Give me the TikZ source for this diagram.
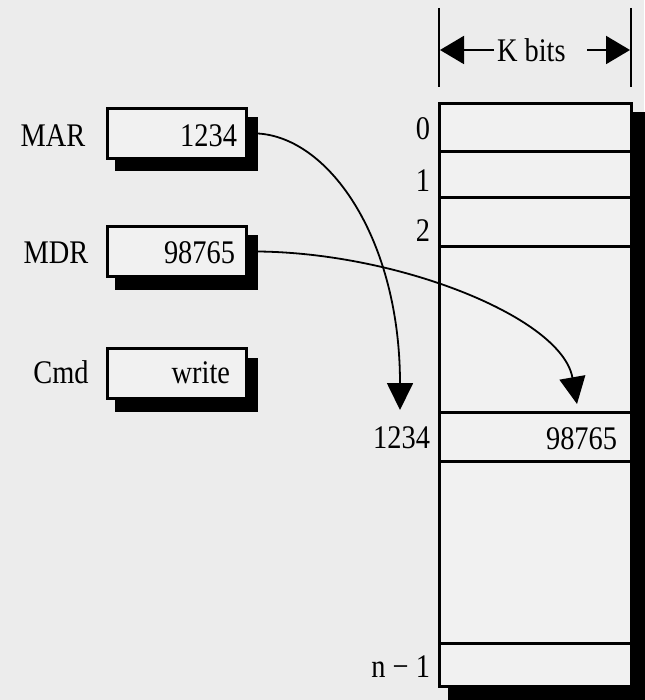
\documentclass[tikz,border=0pt]{standalone}
\usepackage{fontspec}
\setmainfont{Liberation Serif}[FakeStretch=0.86]
\usetikzlibrary{arrows.meta}
\definecolor{pagebg}{RGB}{236,236,236}
\definecolor{boxfill}{RGB}{241,241,241}
\pgfdeclarelayer{back}
\pgfsetlayers{back,main}
\begin{document}
\begin{tikzpicture}[x=1pt,y=-1pt,
  txt/.style={font=\fontsize{33}{37}\selectfont, inner sep=0pt, outer sep=0pt},
  reg/.style={draw, line width=3pt, fill=boxfill, minimum width=139pt, minimum height=50pt, inner sep=0pt, outer sep=0pt},
  cell/.style={draw, line width=3pt, fill=boxfill, minimum width=192pt, inner sep=0pt, outer sep=0pt},
  curve/.style={line width=1.8pt, -{Triangle[length=27pt,width=26pt]}},
  karrow/.style={line width=2pt, -{Triangle[length=24pt,width=28pt]}},
  bar/.style={line width=2pt}
]
\begin{pgfonlayer}{back}
\fill[pagebg] (0,0) rectangle (644,700);
\end{pgfonlayer}
\useasboundingbox (0,0) rectangle (644,700);

% registers
\node[reg] (mar) at (177,133.5) {};
\node[reg] (mdr) at (177,251.5) {};
\node[reg] (cmd) at (177,373.5) {};
\node[txt, anchor=base east] (marv) at (237,147) {1234};
\node[txt, anchor=base east] (mdrv) at (235,263) {98765};
\node[txt, anchor=base east] (cmdv) at (230,383) {write};
\node[txt, anchor=base] (marl) at (53,147) {MAR};
\node[txt, anchor=base] (mdrl) at (56,263) {MDR};
\node[txt, anchor=base] (cmdl) at (61,383) {Cmd};

% memory
\node[cell, minimum height=48.5pt] (r0) at (535.5,127.75) {};
\node[cell, minimum height=46pt] (r1) at (535.5,175) {};
\node[cell, minimum height=49pt] (r2) at (535.5,222.5) {};
\node[cell, minimum height=165pt] (ga) at (535.5,329.5) {};
\node[cell, minimum height=49pt] (rk) at (535.5,436.5) {};
\node[cell, minimum height=182pt] (gb) at (535.5,552) {};
\node[cell, minimum height=43.5pt] (rn) at (535.5,664.75) {};

\node[txt, anchor=base east] (l0) at (430,140) {0};
\node[txt, anchor=base east] (l1) at (430,192) {1};
\node[txt, anchor=base east] (l2) at (430,242) {2};
\node[txt, anchor=base east] (lk) at (430,448) {1234};
\node[txt, anchor=base east] (vk) at (617,449) {98765};
\node[txt, anchor=base east] (ln) at (430,677) {n − 1};

% shadows
\begin{pgfonlayer}{back}
\fill[black] ([xshift=7pt,yshift=-13pt]mar.south west) rectangle ([xshift=11pt,yshift=-9pt]mar.north east);
\fill[black] ([xshift=7pt,yshift=-13pt]mdr.south west) rectangle ([xshift=11pt,yshift=-9pt]mdr.north east);
\fill[black] ([xshift=7pt,yshift=-13pt]cmd.south west) rectangle ([xshift=11pt,yshift=-9pt]cmd.north east);
\fill[black] ([xshift=8pt]rn.south west) rectangle ([xshift=14pt,yshift=-9pt]r0.north east);
\fill[black] ([xshift=8pt,yshift=-14pt]rn.south west) rectangle ([xshift=14pt]rn.south east);
\end{pgfonlayer}

% K bits
\coordinate (kLt) at (439,8);
\coordinate (kLb) at (439,87);
\coordinate (kRt) at (631,8);
\coordinate (kRb) at (631,87);
\coordinate (kL) at (440,50);
\coordinate (kR) at (630,50);
\coordinate (ka) at (494,50);
\coordinate (kc) at (587,50);
\draw[bar] (kLt) -- (kLb);
\draw[bar] (kRt) -- (kRb);
\node[txt, anchor=base west] (kb) at (497,62) {K bits};
\draw[karrow] (ka) -- (kL);
\draw[karrow] (kc) -- (kR);

% data paths
\coordinate (tipA) at (400,410);
\coordinate (tipB) at (577,404);
\draw[curve] ([xshift=11.5pt]mar.east) .. controls (330,138) and (400,240) .. (tipA);
\draw[curve] ([xshift=11.5pt]mdr.east) .. controls (400,253) and (562,318) .. (tipB);
\end{tikzpicture}
\end{document}
